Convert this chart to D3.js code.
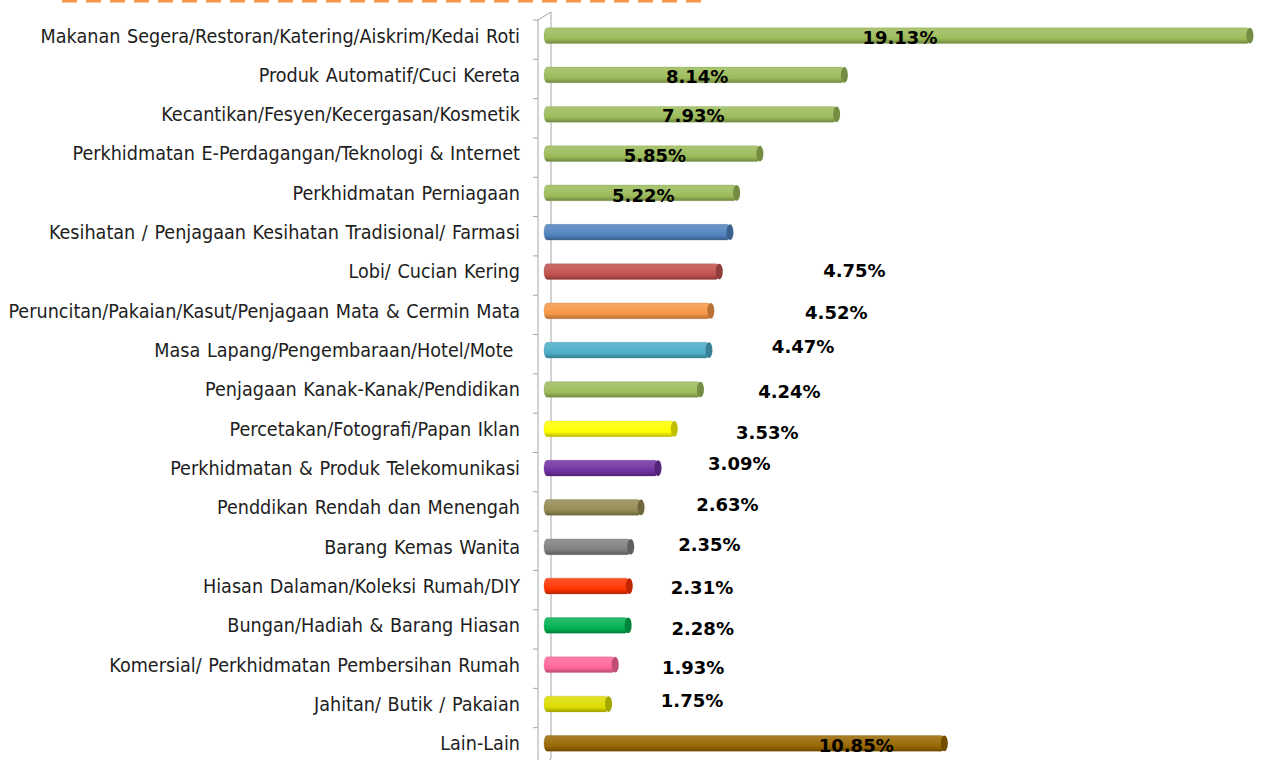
<!DOCTYPE html>
<html>
<head>
<meta charset="utf-8">
<script src="https://cdn.jsdelivr.net/npm/d3@7"></script>
<style>
  html, body { margin: 0; padding: 0; background: #fff; }
  svg { display: block; }
  .cat { font-family: "DejaVu Sans Condensed", "DejaVu Sans", sans-serif; font-size: 19.6px; word-spacing: 1px; fill: #1e1e1e; white-space: pre; }
  .val { font-family: "DejaVu Sans", sans-serif; font-weight: bold; font-size: 18px; fill: #000; }
</style>
</head>
<body>
<svg id="chart" width="1261" height="760"></svg>
<script>
// Categories, top to bottom.
const categories = [
    "Makanan Segera/Restoran/Katering/Aiskrim/Kedai Roti",
    "Produk Automatif/Cuci Kereta",
    "Kecantikan/Fesyen/Kecergasan/Kosmetik",
    "Perkhidmatan E-Perdagangan/Teknologi & Internet",
    "Perkhidmatan Perniagaan",
    "Kesihatan / Penjagaan Kesihatan Tradisional/ Farmasi",
    "Lobi/ Cucian Kering",
    "Peruncitan/Pakaian/Kasut/Penjagaan Mata & Cermin Mata",
    "Masa Lapang/Pengembaraan/Hotel/Mote ",
    "Penjagaan Kanak-Kanak/Pendidikan",
    "Percetakan/Fotografi/Papan Iklan",
    "Perkhidmatan & Produk Telekomunikasi",
    "Penddikan Rendah dan Menengah",
    "Barang Kemas Wanita",
    "Hiasan Dalaman/Koleksi Rumah/DIY",
    "Bungan/Hadiah & Barang Hiasan",
    "Komersial/ Perkhidmatan Pembersihan Rumah",
    "Jahitan/ Butik / Pakaian",
    "Lain-Lain"
];

// Share of each category (%). Kesihatan has no printed label.
const values = [19.13, 8.14, 7.93, 5.85, 5.22, 5.04, 4.75, 4.52, 4.47, 4.24,
                3.53, 3.09, 2.63, 2.35, 2.31, 2.28, 1.93, 1.75, 10.85];

// Which bars carry a printed label.
const showLabel = [true, true, true, true, true, false, true, true, true, true,
                   true, true, true, true, true, true, true, true, true];

// Bar colours (Excel 2007 style palette).
const barColors = ["#9bbb59", "#9bbb59", "#9bbb59", "#9bbb59", "#9bbb59",
                   "#4f81bd", "#c0504d", "#f79646", "#4bacc6", "#9bbb59",
                   "#ffff00", "#7030a0", "#948a54", "#7f7f7f", "#ff3300",
                   "#00b050", "#ff6699", "#dddd00", "#996600"];

// Where the hand-placed value labels sit: centre in axis units (null = middle of bar), and a vertical nudge.
const labelAnchor = [null, null, null, null, null, null, 8.33, 7.84, 6.94, 6.57,
                     5.97, 5.21, 4.89, 4.40, 4.20, 4.22, 3.96, 3.93, 8.38];
const labelNudge = [2, 2, 1, 2, 3, 0, -1, 2, -3, 2, 4, -4, -3, -2, 2, 3, 3, -3, 2];

const svg = d3.select("#chart");
const defs = svg.append("defs");

const x = d3.scaleLinear().domain([0, 20]).range([547, 547 + 36.9 * 20]);
const y = d3.scaleBand().domain(d3.range(categories.length)).range([16, 763])
    .paddingInner(0.6).paddingOuter(0.3);

// 3D axis wall offset.
const depth = { dx: 13, dy: -8 };
const frontX = 538;

// Orange dashed rule cut off at the top of the picture.
svg.append("line")
    .attr("x1", 62).attr("x2", 706)
    .attr("y1", 1).attr("y2", 1)
    .attr("stroke", "#f79646")
    .attr("stroke-width", 3)
    .attr("stroke-dasharray", "15 9");

// Axis: front edge, back edge and ticks.
const axisG = svg.append("g").attr("stroke", "#a6a6a6").attr("fill", "none");
const axisTop = y.range()[0] + 4, axisBottom = y.range()[1] + 4;
axisG.append("line").attr("x1", frontX).attr("x2", frontX).attr("y1", axisTop).attr("y2", axisBottom);
axisG.append("line")
    .attr("x1", frontX + depth.dx).attr("x2", frontX + depth.dx)
    .attr("y1", axisTop + depth.dy).attr("y2", axisBottom + depth.dy);
axisG.append("line")
    .attr("x1", frontX).attr("y1", axisTop)
    .attr("x2", frontX + depth.dx).attr("y2", axisTop + depth.dy);
axisG.append("line")
    .attr("x1", frontX).attr("y1", axisBottom)
    .attr("x2", frontX + depth.dx).attr("y2", axisBottom + depth.dy);
const tickYs = d3.range(categories.length + 1).map(i => y.range()[0] + i * y.step() + 4);
axisG.selectAll("line.tick").data(tickYs).join("line")
    .attr("class", "tick")
    .attr("x1", frontX - 5).attr("x2", frontX)
    .attr("y1", d => d).attr("y2", d => d);

// Gradients for cylinder look.
barColors.forEach((c, i) => {
    const base = d3.color(c);
    const g = defs.append("linearGradient")
        .attr("id", "grad" + i)
        .attr("x1", 0).attr("y1", 0).attr("x2", 0).attr("y2", 1);
    g.append("stop").attr("offset", "0%").attr("stop-color", d3.interpolateRgb(c, "#fff")(0.15));
    g.append("stop").attr("offset", "35%").attr("stop-color", d3.interpolateRgb(c, "#fff")(0.1));
    g.append("stop").attr("offset", "70%").attr("stop-color", c);
    g.append("stop").attr("offset", "100%").attr("stop-color", base.darker(0.9));
});

// Category labels.
svg.append("g").selectAll("text").data(categories).join("text")
    .attr("class", "cat")
    .attr("x", 520)
    .attr("y", (d, i) => y(i) + y.bandwidth() / 2)
    .attr("dy", "0.35em")
    .attr("text-anchor", "end")
    .text(d => d);

// Bars.
const bh = y.bandwidth();
const cap = 3.5;
const bars = svg.append("g").selectAll("g").data(values).join("g");
bars.append("rect")
    .attr("x", x(0) - 3)
    .attr("y", (d, i) => y(i))
    .attr("width", d => x(d) - x(0))
    .attr("height", bh)
    .attr("rx", 3).attr("ry", bh / 2)
    .attr("fill", (d, i) => `url(#grad${i})`)
    .attr("stroke", (d, i) => d3.color(barColors[i]).darker(0.6))
    .attr("stroke-opacity", 0.35)
    .attr("stroke-width", 0.8);
bars.append("ellipse")
    .attr("cx", d => x(d) - 3)
    .attr("cy", (d, i) => y(i) + bh / 2)
    .attr("rx", cap)
    .attr("ry", bh / 2)
    .attr("fill", (d, i) => d3.color(barColors[i]).darker(0.8));

// Value labels (index kept so the layout arrays line up).
const labelled = values.map((v, i) => ({ v, i })).filter(d => showLabel[d.i]);
svg.append("g").selectAll("text").data(labelled).join("text")
    .attr("class", "val")
    .attr("x", d => labelAnchor[d.i] === null ? (x(0) + x(d.v)) / 2 : x(labelAnchor[d.i]))
    .attr("y", d => y(d.i) + bh / 2 + labelNudge[d.i])
    .attr("dy", "0.35em")
    .attr("text-anchor", "middle")
    .text(d => d.v.toFixed(2) + "%");
</script>
</body>
</html>
